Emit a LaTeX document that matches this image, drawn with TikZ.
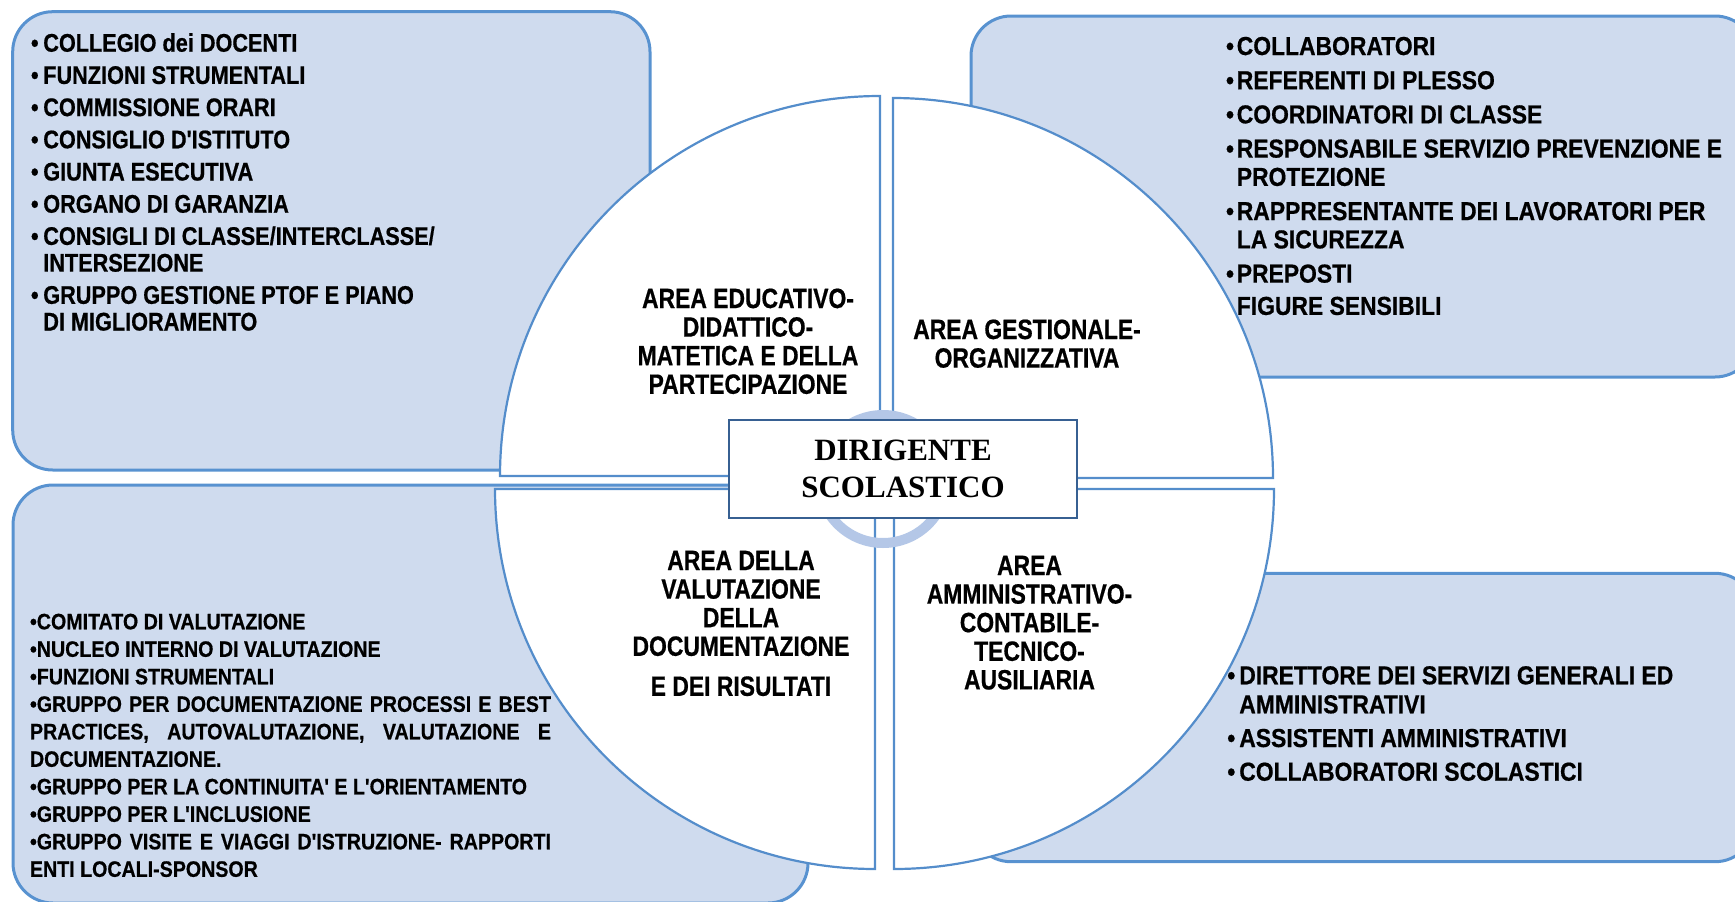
\documentclass[tikz,border=0pt]{standalone}
\usepackage{fontspec}
\newfontfamily\fA[FakeStretch=0.85,FakeBold=0.6]{Liberation Sans}
\newfontfamily\fB[FakeStretch=0.88,FakeBold=0.6]{Liberation Sans}
\newfontfamily\fC[FakeStretch=0.82,FakeBold=0.6]{Liberation Sans}
\newfontfamily\fS{Liberation Serif}
\definecolor{boxfill}{RGB}{207,219,238}
\definecolor{boxline}{RGB}{88,146,208}
\definecolor{qline}{RGB}{84,141,203}
\definecolor{ringc}{RGB}{180,199,231}
\definecolor{dsline}{RGB}{55,96,146}
\newlength\bind
\newcommand\itm[1]{\par\hangindent=\bind\hangafter=1\noindent\makebox[\bind][l]{•}#1\par}
\begin{document}
\begin{tikzpicture}[x=1pt,y=-1pt,
  box/.style={fill=boxfill,draw=boxline,line width=3pt,rounded corners=40pt},
  quad/.style={fill=white,draw=qline,line width=2.2pt,line join=miter},
  txt/.style={anchor=base west,inner sep=0pt,outer sep=0pt},
  lbl/.style={anchor=base,inner sep=0pt,outer sep=0pt},
  ring/.style={draw=ringc,line width=10pt}
]
\useasboundingbox (0,0) rectangle (1735,902);
% side boxes
\draw[box] (12.7,11.7) rectangle (650,470);
\draw[box] (971,16) rectangle (1755,377);
\draw[box] (13,485) rectangle (808,903);
\draw[box] (971,573.3) rectangle (1755,861.7);
% quadrants
\draw[quad] (880,476) -- (880,96) arc[start angle=270,end angle=180,radius=380] -- cycle;
\draw[quad] (893,478) -- (1273,478) arc[start angle=0,end angle=-90,radius=380] -- cycle;
\draw[quad] (875,489) -- (875,869) arc[start angle=90,end angle=180,radius=380] -- cycle;
\draw[quad] (894,489) -- (1274,489) arc[start angle=0,end angle=90,radius=380] -- cycle;
% ring
\draw[ring] (883,479) circle[radius=64];
% centre box
\node[draw=dsline,line width=1.5pt,fill=white,minimum width=348pt,minimum height=98pt,inner sep=0pt] (ds) at (903,469)
  {\parbox[t]{340pt}{\centering\fS\bfseries\fontsize{31}{37.7}\selectfont DIRIGENTE\\SCOLASTICO}};
% quadrant labels
\node[lbl] (qtl) at (748,308) {\parbox[t]{320pt}{\centering\fC\bfseries\fontsize{27.9}{28.6}\selectfont AREA EDUCATIVO-\\DIDATTICO-\\MATETICA E DELLA\\PARTECIPAZIONE}};
\node[lbl] (qtr) at (1027,339) {\parbox[t]{320pt}{\centering\fC\bfseries\fontsize{27.9}{28.6}\selectfont AREA GESTIONALE-\\ORGANIZZATIVA}};
\node[lbl] (qbl) at (741,570) {\parbox[t]{320pt}{\centering\fC\bfseries\fontsize{27.9}{28.6}\selectfont AREA DELLA\\VALUTAZIONE\\DELLA\\DOCUMENTAZIONE\\[11.4pt]E DEI RISULTATI}};
\node[lbl] (qbr) at (1029.5,575) {\parbox[t]{320pt}{\centering\fC\bfseries\fontsize{27.9}{28.6}\selectfont AREA\\AMMINISTRATIVO-\\CONTABILE-\\TECNICO-\\AUSILIARIA}};
% top-left list
\node[txt] (tltext) at (31,51.7) {\parbox[t]{600pt}{\fA\bfseries\fontsize{25.5}{26.7}\selectfont\setlength\bind{12.3pt}\lineskiplimit=-100pt
\itm{COLLEGIO dei DOCENTI}\parskip=5.5pt
\itm{FUNZIONI STRUMENTALI}
\itm{COMMISSIONE ORARI}
\itm{CONSIGLIO D'ISTITUTO}
\itm{GIUNTA ESECUTIVA}
\itm{ORGANO DI GARANZIA}
\itm{CONSIGLI DI CLASSE/INTERCLASSE/\\INTERSEZIONE}
\itm{GRUPPO GESTIONE PTOF E PIANO\\DI MIGLIORAMENTO}}};
% top-right list
\node[txt] (trtext) at (1226,55) {\parbox[t]{500pt}{\fB\bfseries\fontsize{26}{28.3}\selectfont\setlength\bind{10.8pt}\lineskiplimit=-100pt
\itm{COLLABORATORI}\parskip=5.9pt
\itm{REFERENTI DI PLESSO}
\itm{COORDINATORI DI CLASSE}
\itm{RESPONSABILE SERVIZIO PREVENZIONE E\\PROTEZIONE}
\itm{RAPPRESENTANTE DEI LAVORATORI PER\\LA SICUREZZA}
\itm{PREPOSTI\\[4pt]FIGURE SENSIBILI}}};
% bottom-right list
\node[txt] (brtext) at (1227.3,684.3) {\parbox[t]{500pt}{\fB\bfseries\fontsize{26}{29}\selectfont\setlength\bind{12pt}\lineskiplimit=-100pt
\itm{DIRETTORE DEI SERVIZI GENERALI ED\\AMMINISTRATIVI}\parskip=4.7pt
\itm{ASSISTENTI AMMINISTRATIVI}
\itm{COLLABORATORI SCOLASTICI}}};
% bottom-left list
\node[txt] (bltext) at (30,629.3) {\parbox[t]{560pt}{\fB\bfseries\fontsize{22.3}{27.5}\selectfont\raggedright\lineskiplimit=-100pt
•COMITATO DI VALUTAZIONE\\
•NUCLEO INTERNO DI VALUTAZIONE\\
•FUNZIONI STRUMENTALI\\
\makebox[521pt][s]{•GRUPPO PER DOCUMENTAZIONE PROCESSI E BEST}\\
\makebox[521pt][s]{PRACTICES, AUTOVALUTAZIONE, VALUTAZIONE E}\\
DOCUMENTAZIONE.\\
•GRUPPO PER LA CONTINUITA' E L'ORIENTAMENTO\\
•GRUPPO PER L'INCLUSIONE\\
\makebox[521pt][s]{•GRUPPO VISITE E VIAGGI D'ISTRUZIONE- RAPPORTI}\\
ENTI LOCALI-SPONSOR}};
\end{tikzpicture}
\end{document}
